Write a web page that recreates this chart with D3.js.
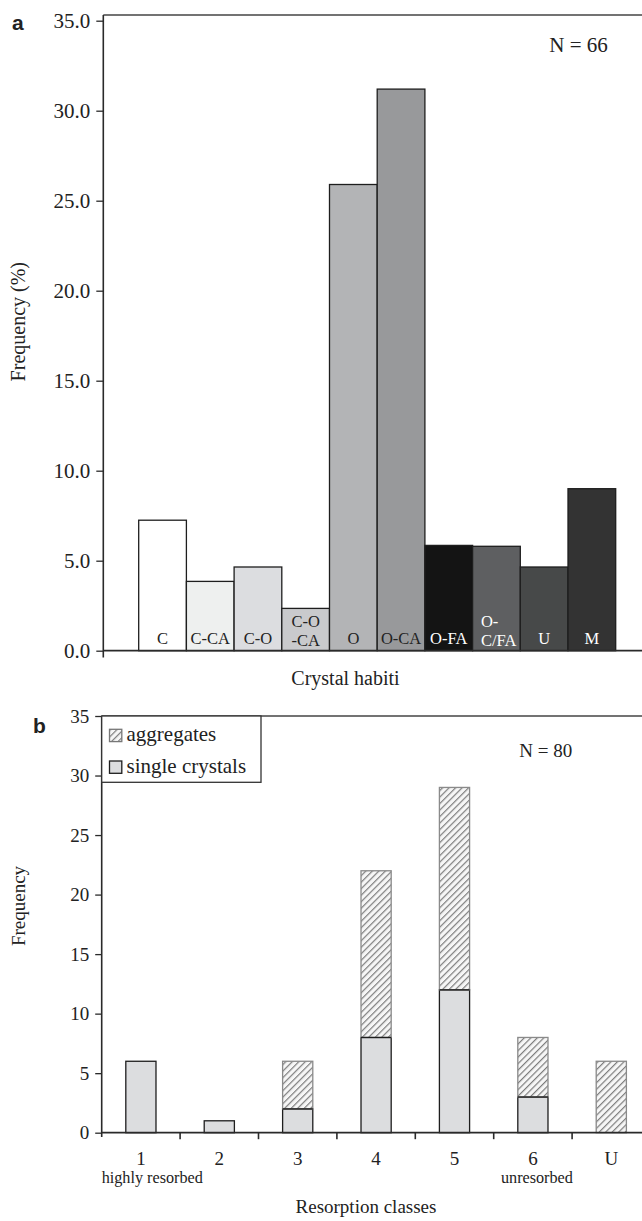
<!DOCTYPE html>
<html>
<head>
<meta charset="utf-8">
<script src="https://cdn.jsdelivr.net/npm/d3@7"></script>
<style>
  html, body { margin: 0; padding: 0; background: #fff; }
  svg { display: block; }
  text { font-family: "Liberation Serif", "Times New Roman", serif; fill: #222; }
</style>
</head>
<body>
<svg id="chart" width="642" height="1221"></svg>
<script>
// ---------- DATA ----------
const habitCats = ["C", "C-CA", "C-O", "C-O-CA", "O", "O-CA", "O-FA", "O-C/FA", "U", "M"];
const habitLabelLines = [["C"], ["C-CA"], ["C-O"], ["C-O", "-CA"], ["O"], ["O-CA"], ["O-FA"], ["O-", "C/FA"], ["U"], ["M"]];
const habitFreq = [7.25, 3.85, 4.65, 2.35, 25.9, 31.2, 5.85, 5.8, 4.65, 9.0];
const yTicksA = [0, 5, 10, 15, 20, 25, 30, 35];

const resorptionCats = ["1", "2", "3", "4", "5", "6", "U"];
const resorptionSub = ["highly resorbed", "", "", "", "", "unresorbed", ""];
const singleCrystals = [6, 1, 2, 8, 12, 3, 0];
const aggregates = [0, 0, 4, 14, 17, 5, 6];
const yTicksB = [0, 5, 10, 15, 20, 25, 30, 35];

// ---------- STYLES ----------
const habitFill = ["#ffffff", "#eef0ef", "#dcdde0", "#c9cacc", "#b3b4b6", "#98999b", "#141414", "#5e5f61", "#474949", "#333333"];
const habitText = ["#222", "#222", "#222", "#222", "#222", "#222", "#fff", "#fff", "#fff", "#fff"];
const axisColor = "#2a2a2a";

const svg = d3.select("#chart");

// hatch pattern
const defs = svg.append("defs");
const pat = defs.append("pattern")
  .attr("id", "hatch").attr("patternUnits", "userSpaceOnUse")
  .attr("width", 4.6).attr("height", 4.6)
  .attr("patternTransform", "rotate(45)");
pat.append("rect").attr("width", 4.6).attr("height", 4.6).attr("fill", "#f6f6f6");
pat.append("line").attr("x1", 0.6).attr("y1", 0).attr("x2", 0.6).attr("y2", 4.6)
  .attr("stroke", "#7d7d7d").attr("stroke-width", 1.2);

// =============== CHART A ===============
const A = { left: 103.3, right: 642, top: 15, bottom: 650.7 };
const xA = d3.scaleBand().domain(habitCats).range([138.7, 615.7]).padding(0);
const yA = d3.scaleLinear().domain([0, 35]).range([650.7, 20.7]);

const gA = svg.append("g");

// bars
gA.selectAll("rect.bar").data(habitCats).join("rect")
  .attr("class", "bar")
  .attr("x", d => xA(d))
  .attr("y", (d, i) => yA(habitFreq[i]))
  .attr("width", xA.bandwidth())
  .attr("height", (d, i) => yA(0) - yA(habitFreq[i]))
  .attr("fill", (d, i) => habitFill[i])
  .attr("stroke", "#1e1e1e").attr("stroke-width", 1.3);

// bar labels
habitCats.forEach((c, i) => {
  const lines = habitLabelLines[i];
  const cx = xA(c) + xA.bandwidth() / 2;
  const t = gA.append("text")
    .attr("font-size", 16.5)
    .style("fill", habitText[i]);
  if (lines.length === 1) {
    t.attr("x", cx).attr("y", 644).attr("text-anchor", "middle").text(lines[0]);
  } else if (c === "O-C/FA") {
    t.attr("text-anchor", "start");
    t.append("tspan").attr("x", cx - 15.5).attr("y", 627).text(lines[0]);
    t.append("tspan").attr("x", cx - 15.5).attr("y", 646).text(lines[1]);
  } else {
    t.attr("text-anchor", "middle");
    t.append("tspan").attr("x", cx).attr("y", 627).text(lines[0]);
    t.append("tspan").attr("x", cx).attr("y", 646).text(lines[1]);
  }
});

// frame / axes
gA.append("line").attr("x1", A.left).attr("x2", A.right).attr("y1", A.top).attr("y2", A.top)
  .attr("stroke", "#444").attr("stroke-width", 1.6);
gA.append("line").attr("x1", A.left).attr("x2", A.left).attr("y1", A.top).attr("y2", 657.5)
  .attr("stroke", axisColor).attr("stroke-width", 1.6);
gA.append("line").attr("x1", A.left).attr("x2", A.right).attr("y1", A.bottom).attr("y2", A.bottom)
  .attr("stroke", axisColor).attr("stroke-width", 1.8);

const axA = gA.append("g").attr("transform", `translate(${A.left},0)`)
  .call(d3.axisLeft(yA).tickValues(yTicksA).tickFormat(d3.format(".1f")).tickSize(7).tickPadding(6));
axA.select(".domain").remove();
axA.selectAll(".tick line").attr("stroke", axisColor).attr("stroke-width", 1.3);
axA.selectAll(".tick text").attr("font-size", 21).attr("font-family", "Liberation Serif").style("fill", "#222");

gA.append("text").attr("transform", "translate(25,321.7) rotate(-90)")
  .attr("text-anchor", "middle").attr("font-size", 20).text("Frequency (%)");
gA.append("text").attr("x", 345.5).attr("y", 685).attr("text-anchor", "middle")
  .attr("font-size", 20).text("Crystal habiti");
gA.append("text").attr("x", 549.3).attr("y", 51.7).attr("font-size", 21).text("N = 66");
gA.append("text").attr("x", 12).attr("y", 30)
  .attr("font-family", "Liberation Sans, Arial, sans-serif").attr("font-weight", "bold")
  .attr("font-size", 21).style("font-family", "Liberation Sans, Arial, sans-serif").text("a");

// =============== CHART B ===============
const B = { left: 101.7, right: 642, top: 716, bottom: 1132.7 };
const xB = d3.scaleBand().domain(resorptionCats).range([101.7, 650.5]).paddingInner(0.615).paddingOuter(0.3075);
const xBstep = d3.scaleBand().domain(resorptionCats).range([101.7, 650.5]).padding(0);
const yB = d3.scaleLinear().domain([0, 35]).range([1132.7, 716]);

const gB = svg.append("g");

// single crystals
gB.selectAll("rect.single").data(resorptionCats).join("rect")
  .attr("class", "single")
  .filter((d, i) => singleCrystals[i] > 0)
  .attr("x", d => xB(d))
  .attr("y", d => yB(singleCrystals[resorptionCats.indexOf(d)]))
  .attr("width", xB.bandwidth())
  .attr("height", d => yB(0) - yB(singleCrystals[resorptionCats.indexOf(d)]))
  .attr("fill", "#dcdddf").attr("stroke", "#1e1e1e").attr("stroke-width", 1.3);

// aggregates stacked on top
gB.selectAll("rect.agg").data(resorptionCats).join("rect")
  .attr("class", "agg")
  .filter((d, i) => aggregates[i] > 0)
  .attr("x", d => xB(d))
  .attr("y", d => { const i = resorptionCats.indexOf(d); return yB(singleCrystals[i] + aggregates[i]); })
  .attr("width", xB.bandwidth())
  .attr("height", d => { const i = resorptionCats.indexOf(d); return yB(singleCrystals[i]) - yB(singleCrystals[i] + aggregates[i]); })
  .attr("fill", "url(#hatch)").attr("stroke", "#8a8a8a").attr("stroke-width", 1.3);

// redraw single-crystal top edges over hatch border
gB.selectAll("line.sep").data(resorptionCats.filter((d, i) => singleCrystals[i] > 0 && aggregates[i] > 0)).join("line")
  .attr("x1", d => xB(d)).attr("x2", d => xB(d) + xB.bandwidth())
  .attr("y1", d => yB(singleCrystals[resorptionCats.indexOf(d)]))
  .attr("y2", d => yB(singleCrystals[resorptionCats.indexOf(d)]))
  .attr("stroke", "#1e1e1e").attr("stroke-width", 1.3);

// frame / axes
gB.append("line").attr("x1", B.left).attr("x2", B.right).attr("y1", B.top).attr("y2", B.top)
  .attr("stroke", "#444").attr("stroke-width", 1.5);
gB.append("line").attr("x1", B.left).attr("x2", B.left).attr("y1", B.top).attr("y2", 1137)
  .attr("stroke", axisColor).attr("stroke-width", 1.6);
gB.append("line").attr("x1", B.left).attr("x2", B.right).attr("y1", B.bottom).attr("y2", B.bottom)
  .attr("stroke", axisColor).attr("stroke-width", 1.8);

// category boundary ticks
gB.selectAll("line.ctick").data(resorptionCats.slice(1)).join("line")
  .attr("x1", d => xBstep(d)).attr("x2", d => xBstep(d))
  .attr("y1", B.bottom).attr("y2", B.bottom + 6.5)
  .attr("stroke", axisColor).attr("stroke-width", 1.6);

const axB = gB.append("g").attr("transform", `translate(${B.left},0)`)
  .call(d3.axisLeft(yB).tickValues(yTicksB).tickFormat(d3.format("d")).tickSize(6.5).tickPadding(6));
axB.select(".domain").remove();
axB.selectAll(".tick line").attr("stroke", axisColor).attr("stroke-width", 1.3);
axB.selectAll(".tick text").attr("font-size", 19).attr("font-family", "Liberation Serif").style("fill", "#222");

// category labels
gB.selectAll("text.cat").data(resorptionCats).join("text")
  .attr("class", "cat")
  .attr("x", d => xBstep(d) + xBstep.bandwidth() / 2)
  .attr("y", 1165).attr("text-anchor", "middle").attr("font-size", 19)
  .text(d => d);
gB.selectAll("text.sub").data(resorptionCats.filter((d, i) => resorptionSub[i])).join("text")
  .attr("class", "sub")
  .attr("x", d => resorptionCats.indexOf(d) === 0 ? xBstep(d) : xBstep(d) + xBstep.bandwidth() / 2 + 4)
  .attr("y", 1182.5)
  .attr("text-anchor", d => resorptionCats.indexOf(d) === 0 ? "start" : "middle")
  .attr("font-size", 16.2)
  .text(d => resorptionSub[resorptionCats.indexOf(d)]);

gB.append("text").attr("transform", "translate(25,906) rotate(-90)")
  .attr("text-anchor", "middle").attr("font-size", 19).text("Frequency");
gB.append("text").attr("x", 366).attr("y", 1213).attr("text-anchor", "middle")
  .attr("font-size", 19).text("Resorption classes");
gB.append("text").attr("x", 519.3).attr("y", 756.7).attr("font-size", 19).text("N = 80");
gB.append("text").attr("x", 33).attr("y", 733)
  .attr("font-weight", "bold").attr("font-size", 21)
  .style("font-family", "Liberation Sans, Arial, sans-serif").text("b");

// legend
const lg = gB.append("g");
lg.append("rect").attr("x", 101.7).attr("y", 716).attr("width", 159.3).attr("height", 66.3)
  .attr("fill", "#fff").attr("stroke", "#333").attr("stroke-width", 1.3);
const legendItems = [
  { label: "aggregates", fill: "url(#hatch)", stroke: "#777" },
  { label: "single crystals", fill: "#dcdddf", stroke: "#1e1e1e" }
];
legendItems.forEach((it, i) => {
  const y0 = 729.3 + i * 31.7;
  lg.append("rect").attr("x", 109.5).attr("y", y0).attr("width", 12.3).attr("height", 12.3)
    .attr("fill", it.fill).attr("stroke", it.stroke).attr("stroke-width", 1.3);
  lg.append("text").attr("x", 126.5).attr("y", y0 + 12).attr("font-size", 21).text(it.label);
});
</script>
</body>
</html>
